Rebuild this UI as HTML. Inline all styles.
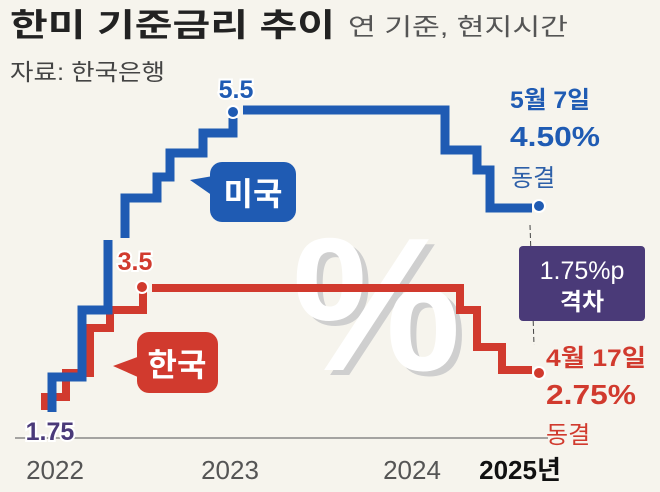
<!DOCTYPE html>
<html><head><meta charset="utf-8"><style>
html,body{margin:0;padding:0;background:#f6f4ed;}
body{width:660px;height:492px;overflow:hidden;position:relative;font-family:"Liberation Sans","Noto Sans CJK KR",sans-serif;}
</style></head><body>
<svg width="660" height="492" viewBox="0 0 660 492" xmlns="http://www.w3.org/2000/svg" style="position:absolute;left:0;top:0">
<rect width="660" height="492" fill="#f6f4ed"/>
<text x="10" y="36" font-size="32" font-weight="bold" fill="#222" font-family="Liberation Sans,Noto Sans CJK KR,sans-serif" textLength="325" lengthAdjust="spacingAndGlyphs">한미 기준금리 추이</text>
<text x="348" y="35" font-size="24" fill="#555" font-family="Liberation Sans,Noto Sans CJK KR,sans-serif" textLength="220" lengthAdjust="spacingAndGlyphs">연 기준, 현지시간</text>
<text x="10" y="80" font-size="23" fill="#444" font-family="Liberation Sans,Noto Sans CJK KR,sans-serif" textLength="155" lengthAdjust="spacingAndGlyphs">자료: 한국은행</text>
<text x="298" y="375" font-size="190" font-weight="bold" fill="#cfcfcf" font-family="Liberation Sans,sans-serif">%</text>
<text x="292" y="370" font-size="190" font-weight="bold" fill="#ffffff" font-family="Liberation Sans,sans-serif">%</text>
<line x1="15" y1="438" x2="548" y2="438" stroke="#888" stroke-width="1.5"/>
<polyline fill="none" stroke="#d13a2e" stroke-width="8" points="45,410 45,397 66,397 66,373 90,373 90,328 110,328 110,310 143,310 143,288"/>
<polyline fill="none" stroke="#d13a2e" stroke-width="8" points="152,288 460,288 460,310 477,310 477,347 502,347 502,370 532,370"/>
<polyline fill="none" stroke="#1f5bb3" stroke-width="9" points="52,412 52,377 82,377 82,310 108,310 108,240"/>
<polyline fill="none" stroke="#1f5bb3" stroke-width="9" points="125,238 125,198 157,198 157,177 170,177 170,153 203,153 203,133 233,133 233,118"/>
<polyline fill="none" stroke="#1f5bb3" stroke-width="9" points="243,110 445,110 445,150 477,150 477,170 490,170 490,208 532,208"/>
<circle cx="233" cy="112" r="6" fill="#1f5bb3" stroke="#fff" stroke-width="2"/>
<circle cx="539" cy="206" r="6" fill="#1f5bb3" stroke="#fff" stroke-width="2"/>
<circle cx="142" cy="287" r="6" fill="#d13a2e" stroke="#fff" stroke-width="2"/>
<circle cx="539" cy="373" r="6" fill="#d13a2e" stroke="#fff" stroke-width="2"/>
<line x1="530" y1="225" x2="534" y2="345" stroke="#444" stroke-width="1" stroke-dasharray="5,3"/>
<text x="236" y="98" font-size="25" font-weight="bold" fill="#1f5bb3" text-anchor="middle" stroke="#fff" stroke-width="4" paint-order="stroke">5.5</text>
<text x="135" y="270" font-size="25" font-weight="bold" fill="#d13a2e" text-anchor="middle" stroke="#fff" stroke-width="4" paint-order="stroke">3.5</text>
<text x="50" y="440" font-size="25" font-weight="bold" fill="#4a3a7a" text-anchor="middle" stroke="#fff" stroke-width="4" paint-order="stroke">1.75</text>
<path d="M190,180 L213,176 L213,196 Z" fill="#1f5bb3"/>
<rect x="210" y="162" width="86" height="60" rx="12" fill="#1f5bb3"/>
<text x="253" y="205" font-size="32" font-weight="bold" fill="#fff" text-anchor="middle" font-family="Noto Sans CJK KR,sans-serif">미국</text>
<path d="M113,366 L140,356 L140,378 Z" fill="#d13a2e"/>
<rect x="137" y="332" width="81" height="61" rx="12" fill="#d13a2e"/>
<text x="177" y="376" font-size="32" font-weight="bold" fill="#fff" text-anchor="middle" font-family="Noto Sans CJK KR,sans-serif">한국</text>
<text x="510" y="108" font-size="24" font-weight="bold" fill="#1f5bb3" font-family="Liberation Sans,Noto Sans CJK KR,sans-serif" textLength="80" lengthAdjust="spacingAndGlyphs">5월 7일</text>
<text x="510" y="146" font-size="28" font-weight="bold" fill="#1f5bb3" textLength="90" lengthAdjust="spacingAndGlyphs">4.50%</text>
<text x="511" y="186" font-size="24" fill="#2d5fa8" font-family="Noto Sans CJK KR,sans-serif">동결</text>
<rect x="519" y="246" width="126" height="75" rx="4" fill="#4a3a78"/>
<text x="582" y="279" font-size="25" fill="#fff" text-anchor="middle">1.75%p</text>
<text x="582" y="310" font-size="24" fill="#fff" text-anchor="middle" font-weight="bold" font-family="Noto Sans CJK KR,sans-serif">격차</text>
<text x="546" y="366" font-size="24" font-weight="bold" fill="#d13a2e" font-family="Liberation Sans,Noto Sans CJK KR,sans-serif" textLength="100" lengthAdjust="spacingAndGlyphs">4월 17일</text>
<text x="546" y="404" font-size="28" font-weight="bold" fill="#d13a2e" textLength="90" lengthAdjust="spacingAndGlyphs">2.75%</text>
<text x="546" y="443" font-size="24" fill="#d13a2e" font-family="Noto Sans CJK KR,sans-serif">동결</text>
<text x="55" y="479" font-size="26" fill="#555" text-anchor="middle">2022</text>
<text x="230" y="479" font-size="26" fill="#555" text-anchor="middle">2023</text>
<text x="412" y="479" font-size="26" fill="#555" text-anchor="middle">2024</text>
<text x="520" y="479" font-size="26" font-weight="bold" fill="#111" text-anchor="middle" font-family="Liberation Sans,Noto Sans CJK KR,sans-serif">2025년</text>
</svg>
</body></html>
